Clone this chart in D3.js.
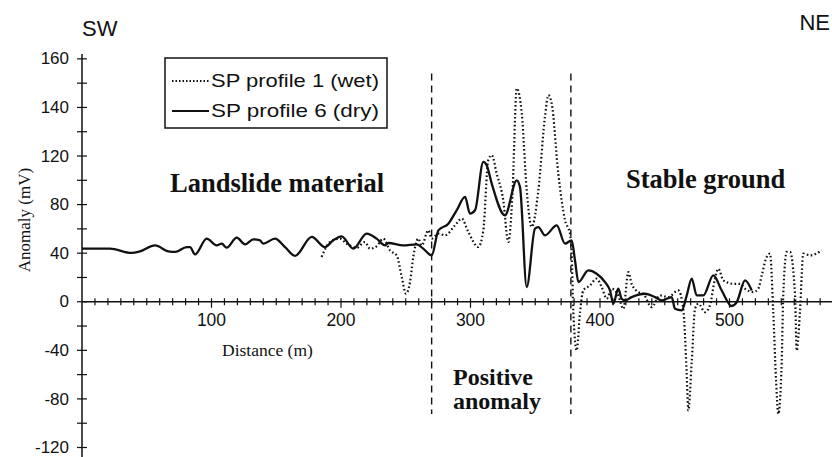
<!DOCTYPE html>
<html><head><meta charset="utf-8">
<script src="https://cdn.jsdelivr.net/npm/d3@7"></script>
<style>body{margin:0;background:#fff}svg{display:block}</style>
</head><body>
<script>
// Data (x in metres, y in the plot's linear anomaly units)
const dryX = [0,21.6,38.4,44.8,56.4,66.7,72,80.8,83.4,87.3,96.3,104,107.9,111.7,119.5,125.9,132.3,137.5,140,149,156.8,164.5,177.4,187.6,194,200.5,209.5,219.8,227.5,234,236.5,248,258.5,263.5,270,275.2,282.9,289.3,295.8,299.6,303.5,309.9,312.5,316.4,326.6,335.7,338.2,343.4,349.8,352.4,357.5,366.6,373,378.1,380.7,383.3,391,397.4,403.9,407.7,410.3,414.1,416.7,419.3,424.4,434.7,442.5,447.6,455.4,457.9,463.1,467,470.8,474.7,479.8,487.5,494,501.7,505.6,512,517.2];
const dryY = [43.7,43.7,40.2,41.5,46.4,41.5,41,45,45,39,52,46.4,47.8,44.5,52.8,47.3,51.4,50.5,47.8,52,45,37.7,53.4,45,50.6,53.9,43.7,56.1,52,46.4,48.4,46.4,47.3,43.7,38.2,58.8,64.3,75.3,86.3,72.6,75.3,115.2,112.4,97.3,71.2,100,94.6,12.1,60.2,61.5,54.7,62.9,47.8,50.6,34,16.2,25.8,23.1,16.2,9.3,-1.6,10.7,2.5,1.1,3.8,6.6,3.8,1.1,3.8,-5.8,-7.1,5.2,19,5.2,5.2,21.7,9.3,-3.5,-0.3,17.6,9.3];
const wetX = [185,191.5,199.2,204.4,212.1,218.5,222.4,227.5,232.7,237.8,243,246.9,250.2,253.3,255.8,259.7,262.3,267.4,270,275.2,280.3,288,293.2,298.3,306,309.9,313.7,316.4,320.2,325.3,329.2,332.3,335.7,339.6,343.4,347.3,352.4,357.5,360.1,362.7,367.8,373,376.8,378.1,379.4,382,384.6,387.1,392.3,397.4,401.3,405.2,409,414.1,418,421.9,424.4,429.6,433.4,439.9,446.3,452.7,460.4,464.3,466.9,468.2,470.8,473.4,476,481,484.9,488.8,491.4,495.2,502.9,508.1,512,518.4,522.2,524.9,528.7,531.3,533.8,535.9,537.7,540.3,541.5,544.2,546.7,550.6,551.9,554.4,557,562.2,571.2];
const wetY = [36.9,49.2,52,47.8,44.5,49.2,43.7,45.6,52,42.3,38.2,20.4,6.6,16.2,36.9,52,46.4,58.8,52,56.1,54.7,62.9,68.5,57.5,45.1,58.8,116.5,120.7,105.6,83.5,49.2,86.3,175.7,155,91.8,61.6,91.8,152.3,170.1,163.3,105.6,67,56.1,39.6,-8.5,-40.2,-8.5,9.3,13.4,19,12.1,2.5,10.7,5.2,-5.8,24.5,14.8,8,6.6,-4.4,5.2,3.9,9.3,-5.8,-58,-89.6,-49.8,-5.8,-1.6,-8.5,-3,19,27.2,17.6,14.8,14.8,10.7,8,10.7,21.7,36.9,39.6,-8.5,-63.5,-92.4,-49.8,5.2,41,41,5.2,-40.2,-8.5,39.6,38.2,42.3];
const yTickValues = [-120,-80,-40,0,40,80,120,160,200];
const yTickLabels = ["-120","-80","-40","0","40","80","120","140","160"];
const xTickValues = [100,200,300,400,500];
const boundaries = [270,377.5];
const seriesNames = ["SP profile 1 (wet)","SP profile 6 (dry)"];

const W = 832, H = 457;
const svg = d3.select("body").append("svg").attr("width",W).attr("height",H);
const x = d3.scaleLinear().domain([0,580]).range([82, 82+580*1.295]);
const y = d3.scaleLinear().domain([-127,204]).range([456,54]);
const ink = "#111";
const serif = "Liberation Serif, Times New Roman, serif";
const sans = "Liberation Sans, Arial, sans-serif";

// x axis line through zero with crossing minor ticks
svg.append("line").attr("x1",x(0)).attr("x2",W).attr("y1",y(0)).attr("y2",y(0)).attr("stroke",ink).attr("stroke-width",1.5);
svg.append("g").selectAll("line").data(d3.range(10,580,10)).join("line")
  .attr("x1",d=>x(d)).attr("x2",d=>x(d))
  .attr("y1",d=>y(0)-3.5).attr("y2",d=>y(0)+(d%100===0?6:3.5))
  .attr("stroke",ink).attr("stroke-width",1.2);
svg.append("g").selectAll("text").data(xTickValues).join("text")
  .attr("x",d=>x(d)).attr("y",y(0)+24).attr("text-anchor","middle")
  .attr("font-family",sans).attr("font-size",17.5).attr("fill",ink)
  .text(d=>d);

// y axis
svg.append("line").attr("x1",x(0)).attr("x2",x(0)).attr("y1",y(204)).attr("y2",H).attr("stroke",ink).attr("stroke-width",1.5);
svg.append("g").selectAll("line").data(d3.range(-120,201,20)).join("line")
  .attr("x1",x(0)-5).attr("x2",x(0)+5).attr("y1",d=>y(d)).attr("y2",d=>y(d))
  .attr("stroke",ink).attr("stroke-width",1.2);
svg.append("g").selectAll("text").data(yTickValues).join("text")
  .attr("x",x(0)-13).attr("y",d=>y(d)).attr("dy","0.33em").attr("text-anchor","end")
  .attr("font-family",sans).attr("font-size",17).attr("fill",ink)
  .text((d,i)=>yTickLabels[i]);

// boundaries
svg.append("g").selectAll("line").data(boundaries).join("line")
  .attr("x1",d=>x(d)).attr("x2",d=>x(d)).attr("y1",y(188)).attr("y2",y(-92.5))
  .attr("stroke",ink).attr("stroke-width",1.4).attr("stroke-dasharray","7,5");

// curves
const line = d3.line().x(d=>x(d[0])).y(d=>y(d[1])).curve(d3.curveMonotoneX);
svg.append("path").datum(wetX.map((v,i)=>[v,wetY[i]])).attr("d",line)
  .attr("fill","none").attr("stroke",ink).attr("stroke-width",2.2).attr("stroke-dasharray","1.6,2.4");
svg.append("path").datum(dryX.map((v,i)=>[v,dryY[i]])).attr("d",line)
  .attr("fill","none").attr("stroke",ink).attr("stroke-width",2.3).attr("stroke-linejoin","round");

// legend
const lg = svg.append("g");
lg.append("rect").attr("x",165).attr("y",58).attr("width",222).attr("height",70).attr("fill","#fff").attr("stroke",ink).attr("stroke-width",1.5);
lg.append("line").attr("x1",172).attr("x2",209).attr("y1",81).attr("y2",81).attr("stroke",ink).attr("stroke-width",1.8).attr("stroke-dasharray","1.5,2");
lg.append("line").attr("x1",172).attr("x2",209).attr("y1",111).attr("y2",111).attr("stroke",ink).attr("stroke-width",2);
lg.selectAll("text").data(seriesNames).join("text")
  .attr("x",211).attr("y",(d,i)=>87+i*30).attr("font-family",sans)
  .attr("font-size",19).attr("fill",ink).attr("textLength",168).attr("lengthAdjust","spacingAndGlyphs").text(d=>d);

// labels
function txt(t,xx,yy,opts){
  const e = svg.append("text").attr("x",xx).attr("y",yy).text(t).attr("fill",ink);
  Object.entries(opts).forEach(([k,v])=>e.attr(k,v));
  return e;
}
txt("SW",82,36,{"font-family":sans,"font-size":22});
txt("NE",830,30,{"font-family":sans,"font-size":22,"text-anchor":"end"});
txt("Landslide material",170,192,{"font-family":serif,"font-size":26.5,"font-weight":"bold"});
txt("Stable ground",626,188,{"font-family":serif,"font-size":26.5,"font-weight":"bold"});
const pa = svg.append("text").attr("font-family",serif).attr("font-size",24).attr("font-weight","bold").attr("fill",ink);
pa.append("tspan").attr("x",453).attr("y",385).text("Positive");
pa.append("tspan").attr("x",453).attr("y",409).text("anomaly");
txt("Distance (m)",222,356,{"font-family":serif,"font-size":17.5});
svg.append("text").attr("transform","translate(30,220) rotate(-90)").attr("text-anchor","middle")
  .attr("font-family",serif).attr("font-size",17).attr("fill",ink).text("Anomaly (mV)");
</script>
</body></html>
